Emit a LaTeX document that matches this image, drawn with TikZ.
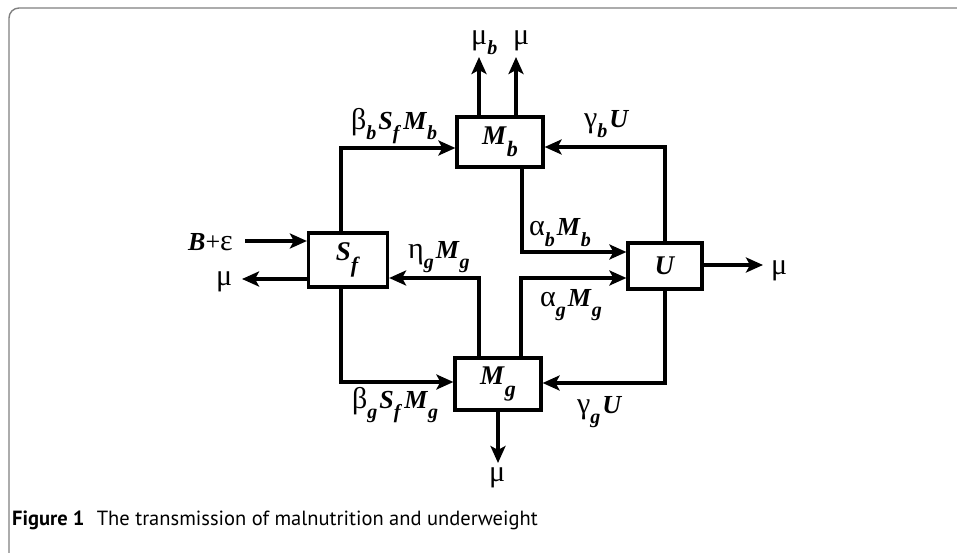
\documentclass[tikz,border=0pt]{standalone}
\usepackage{fontspec}
\setmainfont{Liberation Serif}
\newfontfamily\capfont{PT Sans}
\usetikzlibrary{arrows.meta}
\newcommand\bi[1]{\textbf{\textit{#1}}}
\newcommand\gk[1]{{\fontsize{30}{30}\selectfont #1}}
\newcommand\sbs[1]{\raisebox{-10pt}{\fontsize{20}{20}\selectfont\bi{#1}}\hspace{2pt}}
\newcommand\bsbs[1]{\raisebox{-12pt}{\fontsize{22}{22}\selectfont\bi{#1}}}
\begin{document}
\begin{tikzpicture}[x=1pt,y=-1pt,
  box/.style={draw, line width=3.2pt, inner sep=0pt, font=\fontsize{27}{27}\selectfont},
  conn/.style={line width=3.4pt},
  arr/.style={conn,-{Stealth[length=17pt,width=15pt,inset=4pt]}},
  lbl/.style={inner sep=0pt, anchor=base west, font=\fontsize{26}{26}\selectfont},
  frame/.style={draw=black!50, line width=1.4pt, rounded corners=10pt}]
\useasboundingbox (0,0) rectangle (957,553);
\draw[frame] (957,8) -- (9,8) -- (9,553);
% boxes
\node[box, minimum width=86pt, minimum height=50pt] (Mb) at (500,142) {\bi{M}\bsbs{b}};
\node[box, minimum width=79pt, minimum height=54pt] (Sf) at (348,260) {\bi{S}\bsbs{f}};
\node[box, minimum width=74pt, minimum height=46pt] (U) at (665,266) {\bi{U}};
\node[box, minimum width=86pt, minimum height=52pt] (Mg) at (498,384) {\bi{M}\bsbs{g}};
% junction coordinates
\coordinate (t1) at (479,57);
\coordinate (t2) at (516,57);
\coordinate (c1) at (341,148);
\coordinate (c2) at (665,147);
\coordinate (c3) at (522,252);
\coordinate (c4) at (521,278);
\coordinate (c5) at (479,278);
\coordinate (c6) at (341,382);
\coordinate (c7) at (665,383);
\coordinate (c8) at (498,463);
\coordinate (c9) at (763,265);
\coordinate (c10) at (245,241);
\coordinate (c11) at (242,279);
% connectors
\draw[arr] (Mb.north -| t1) -- (t1);
\draw[arr] (Mb.north -| t2) -- (t2);
\draw[arr] (Sf.north -| c1) -- (c1) -- (Mb.west |- c1);
\draw[arr] (U.north) -- (c2) -- (Mb.east |- c2);
\draw[arr] (Mb.south -| c3) -- (c3) -- (U.west |- c3);
\draw[arr] (Mg.north -| c4) -- (c4) -- (U.west |- c4);
\draw[arr] (Mg.north -| c5) -- (c5) -- (Sf.east |- c5);
\draw[arr] (Sf.south -| c6) -- (c6) -- (Mg.west |- c6);
\draw[arr] (U.south) -- (c7) -- (Mg.east |- c7);
\draw[arr] (Mg.south) -- (c8);
\draw[arr] (U.east |- c9) -- (c9);
\draw[arr] (c10) -- (Sf.west |- c10);
\draw[arr] (Sf.west |- c11) -- (c11);
% labels
\node[lbl] (lmub) at (471,45) {\gk{μ}\sbs{b}};
\node[lbl] (lmu1) at (513,45) {\gk{μ}};
\node[lbl] (lbb) at (351,130) {\gk{β}\sbs{b}\bi{S}\sbs{f}\bi{M}\sbs{b}};
\node[lbl] (lgb) at (584,128) {\gk{γ}\sbs{b}\bi{U}};
\node[lbl] (lin) at (188,250) {\bi{B}+\gk{ε}};
\node[lbl] (lmu2) at (216,285) {\gk{μ}};
\node[lbl] (leta) at (408,258) {\gk{η}\sbs{g}\bi{M}\sbs{g}};
\node[lbl] (lab) at (529,236) {\gk{α}\sbs{b}\bi{M}\sbs{b}};
\node[lbl] (lag) at (540,306) {\gk{α}\sbs{g}\bi{M}\sbs{g}};
\node[lbl] (lmu3) at (771,274) {\gk{μ}};
\node[lbl] (lbg) at (352,408) {\gk{β}\sbs{g}\bi{S}\sbs{f}\bi{M}\sbs{g}};
\node[lbl] (lgg) at (577,413) {\gk{γ}\sbs{g}\bi{U}};
\node[lbl] (lmu4) at (489,481) {\gk{μ}};
% caption
\node[anchor=base west, inner sep=0pt, font=\capfont\fontsize{20.5}{21}\selectfont] (cap) at (12,525) {\textbf{Figure 1}\hspace{0.6em}The transmission of malnutrition and underweight};
\end{tikzpicture}
\end{document}
